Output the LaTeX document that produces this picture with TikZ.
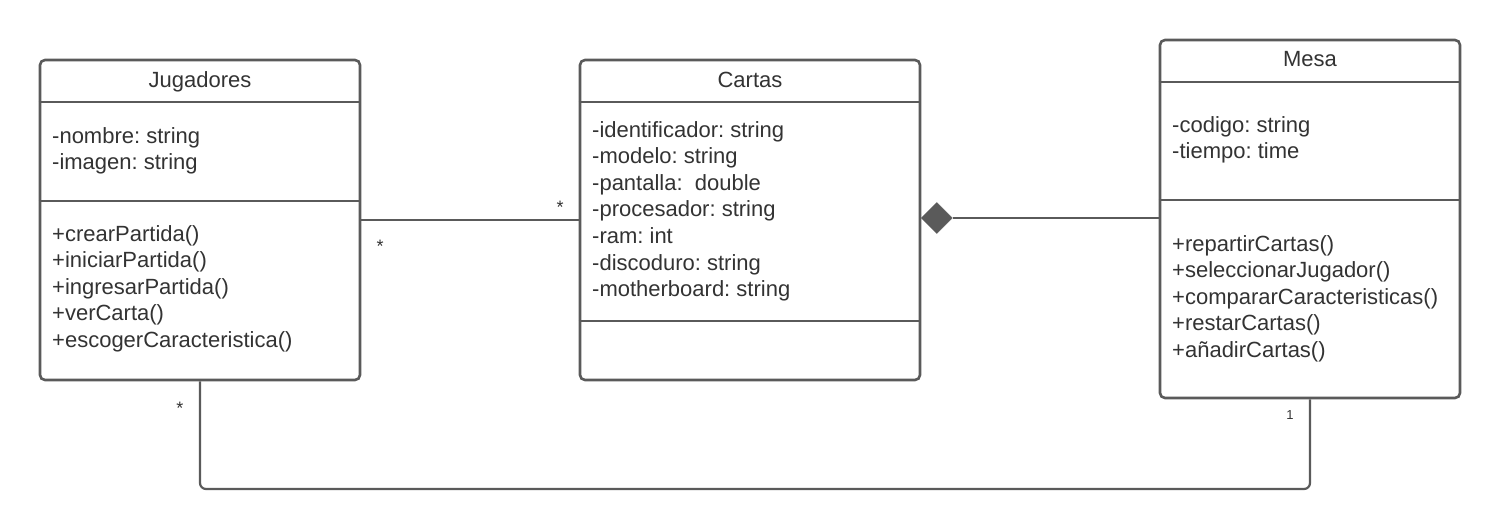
\documentclass[tikz,border=0pt]{standalone}
\usepackage{fontspec}
\setmainfont{Liberation Sans}
\usetikzlibrary{shapes.geometric}
\definecolor{ln}{HTML}{5A5A5A}
\definecolor{tx}{HTML}{333333}
\frenchspacing
\begin{document}
\frenchspacing
\begin{tikzpicture}[x=1pt,y=-1pt,
  box/.style={draw=ln, line width=2.6pt, rounded corners=5pt, fill=white, inner sep=0pt},
  sep/.style={draw=ln, line width=2.6pt},
  txt/.style={anchor=base west, inner sep=0pt, text=tx, font=\fontsize{22}{26}\selectfont},
  ttl/.style={anchor=base, inner sep=0pt, text=tx, font=\fontsize{22}{26}\selectfont},
  conn/.style={draw=ln, line width=2.2pt},
  mult/.style={text=tx, inner sep=0pt, font=\fontsize{18}{18}\selectfont},
  mults/.style={text=tx, inner sep=0pt, font=\fontsize{13}{13}\selectfont}]
\useasboundingbox (0,0) rectangle (1500,530);
% boxes
\node[box, minimum width=320pt, minimum height=320pt] (jug) at (200,220) {};
\node[box, minimum width=340pt, minimum height=320pt] (crt) at (750,220) {};
\node[box, minimum width=300pt, minimum height=358pt] (mesa) at (1310,219) {};
% dividers
\draw[sep] (jug.west |- 0,102) -- (jug.east |- 0,102);
\draw[sep] (jug.west |- 0,201) -- (jug.east |- 0,201);
\draw[sep] (crt.west |- 0,102) -- (crt.east |- 0,102);
\draw[sep] (crt.west |- 0,321) -- (crt.east |- 0,321);
\draw[sep] (mesa.west |- 0,82) -- (mesa.east |- 0,82);
\draw[sep] (mesa.west |- 0,200) -- (mesa.east |- 0,200);
% titles
\node[ttl] (jt) at (200,87) {Jugadores};
\node[ttl] (ct) at (750,87) {Cartas};
\node[ttl] (mt) at (1310,66) {Mesa};
% Jugadores texts
\foreach \t [count=\i] in {-nombre: string,-imagen: string}
  \node[txt] (ja\i) at (52,{143+26.5*(\i-1)}) {\t};
\foreach \t [count=\i] in {+crearPartida(),+iniciarPartida(),+ingresarPartida(),+verCarta(),+escogerCaracteristica()}
  \node[txt] (jm\i) at (52,{241+26.5*(\i-1)}) {\t};
% Cartas texts
\foreach \t [count=\i] in {-identificador: string,-modelo: string,-pantalla:\ \ double,-procesador: string,-ram: int,-discoduro: string,-motherboard: string}
  \node[txt] (ca\i) at (592,{137+26.6*(\i-1)}) {\t};
% Mesa texts
\foreach \t [count=\i] in {-codigo: string,-tiempo: time}
  \node[txt] (ma\i) at (1172,{132+26.5*(\i-1)}) {\t};
\foreach \t [count=\i] in {+repartirCartas(),+seleccionarJugador(),+compararCaracteristicas(),+restarCartas(),+añadirCartas()}
  \node[txt] (mm\i) at (1172,{251+26.5*(\i-1)}) {\t};
% connectors
\draw[conn] (jug.east) -- (crt.west);
\node[diamond, fill=ln, draw=ln, line width=0.5pt, minimum width=31pt, minimum height=31pt, inner sep=0pt, anchor=west] (dia) at (921,218) {};
\draw[conn] (dia.east) -- (dia.east -| mesa.west);
\draw[conn, rounded corners=6pt] (jug.south) -- (jug.south |- 0,489) -- (mesa.south |- 0,489) -- (mesa.south);
% multiplicities
\node[mult] (m1) at (560,207) {*};
\node[mult] (m2) at (380,246) {*};
\node[mult] (m3) at (180,408) {*};
\node[mults] (m4) at (1290,415) {1};
\end{tikzpicture}
\end{document}
